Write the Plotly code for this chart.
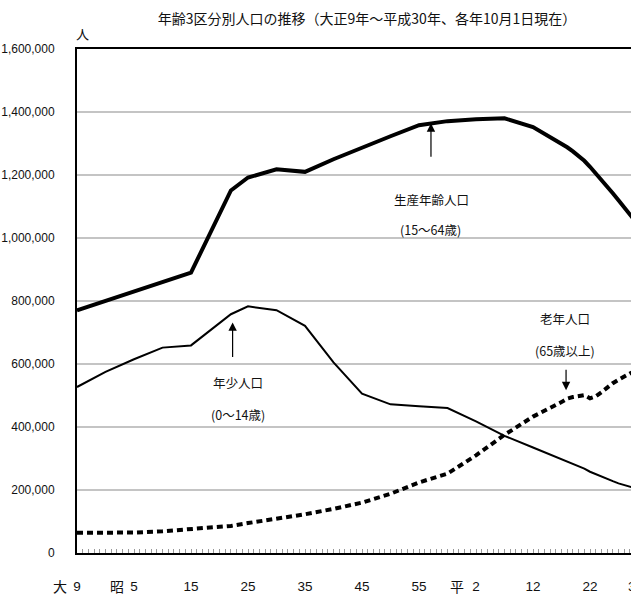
import plotly.graph_objects as go

# ---- data ----
years = [1920, 1925, 1930, 1935, 1940, 1947, 1950, 1955, 1960, 1965, 1970, 1975,
         1980, 1985, 1990, 1995, 2000, 2005, 2006, 2007, 2008, 2009, 2010, 2011,
         2012, 2013, 2014, 2015, 2016, 2017, 2018]
young = [527000, 575000, 615000, 652000, 659000, 758000, 783000, 771000, 721000, 605000,
         506000, 472000, 466000, 460000, 418000, 372000, 335000, 297000, 290000, 283000,
         276000, 268000, 258000, 250000, 243000, 236000, 228000, 221000, 216000, 210000, 205000]
working = [770000, 800000, 830000, 860000, 890000, 1151000, 1192000, 1218000, 1210000, 1250000,
           1288000, 1323000, 1358000, 1371000, 1377000, 1380000, 1352000, 1300000, 1288000,
           1275000, 1261000, 1245000, 1226000, 1206000, 1185000, 1164000, 1142000, 1120000,
           1097000, 1075000, 1052000]
elderly = [64000, 64000, 65000, 69000, 75000, 86000, 95000, 108000, 123000, 140000,
           160000, 188000, 224000, 252000, 310000, 375000, 433000, 479000, 490000, 495000,
           498000, 501000, 491000, 497000, 510000, 525000, 539000, 550000, 561000, 570000, 578000]

title_text = "年齢3区分別人口の推移（大正9年～平成30年、各年10月1日現在）"
label_years = [1920, 1930, 1940, 1950, 1960, 1970, 1980, 1990, 2000, 2010]
label_texts = ["9", "5", "15", "25", "35", "45", "55", "2", "12", "22"]
last_year, last_text = 2018, "30"
era_years = [1917.0, 1927.0, 1986.6]
era_texts = ["大", "昭", "平"]
y_ticks = [0, 200000, 400000, 600000, 800000, 1000000, 1200000, 1400000, 1600000]

NUM_FONT = "Liberation Sans, Arial, sans-serif"
CJK_FONT = "Noto Sans CJK JP, Noto Sans CJK SC, sans-serif"

X0 = 1920
X1 = 1920 + 554 / 5.7


def to_paper(yr):
    return (yr - X0) / (X1 - X0)


fig = go.Figure()
fig.add_trace(go.Scatter(x=years, y=working, mode="lines",
                         line=dict(color="black", width=4), name="生産年齢人口"))
fig.add_trace(go.Scatter(x=years, y=young, mode="lines",
                         line=dict(color="black", width=2), name="年少人口"))
fig.add_trace(go.Scatter(x=years, y=elderly, mode="lines",
                         line=dict(color="black", width=4, dash="6px,4px"), name="老年人口"))

tick_years = list(range(1920, 2018))
tick_text = [label_texts[label_years.index(yr)] if yr in label_years else "" for yr in tick_years]

fig.update_layout(
    width=631, height=601,
    margin=dict(l=77, r=0, t=49, b=48, autoexpand=False),
    paper_bgcolor="white", plot_bgcolor="white",
    showlegend=False,
    title=dict(text=title_text, x=367 / 631, xref="container", xanchor="center",
               y=1 - 19 / 601, yref="container", yanchor="middle",
               font=dict(family=CJK_FONT, size=14, color="#111")),
    xaxis=dict(range=[X0, X1], tickmode="array", tickvals=tick_years,
               ticktext=tick_text, ticks="inside", ticklen=4, tickwidth=1, tickcolor="#999",
               showgrid=False, zeroline=False, showline=True, linecolor="black", linewidth=2,
               mirror=True, ticklabelstandoff=20, automargin=False,
               tickfont=dict(family=NUM_FONT, size=13.5, color="#111")),
    yaxis=dict(range=[0, 1600000], tickmode="array", tickvals=y_ticks, tickformat=",",
               ticks="", showgrid=True, gridcolor="#c4c4c4", gridwidth=1.5,
               zeroline=False, showline=True, linecolor="black", linewidth=2, mirror=False,
               ticklabelstandoff=18, automargin=False,
               tickfont=dict(family=NUM_FONT, size=12, color="#111")),
)

ann = []
# era prefixes and the last (clipped) year label
for yr, t in zip(era_years, era_texts):
    ann.append(dict(x=to_paper(yr), y=0, xref="paper", yref="paper", text=t, showarrow=False,
                    xanchor="center", yshift=-33, yanchor="middle",
                    font=dict(family=CJK_FONT, size=14, color="#111")))
ann.append(dict(x=to_paper(last_year), y=0, xref="paper", yref="paper", text=last_text,
                showarrow=False, xanchor="center", yshift=-33, yanchor="middle",
                font=dict(family=NUM_FONT, size=13.5, color="#111")))
# unit
ann.append(dict(x=0, y=1, xref="paper", yref="paper", text="人", showarrow=False,
                xanchor="center", xshift=5, yshift=27,
                font=dict(family=CJK_FONT, size=13, color="#111")))
# series labels
lab_font = dict(family=CJK_FONT, size=12.5, color="#111")
ann += [
    dict(x=1982.2, y=1123000, text="生産年齢人口", showarrow=False, font=lab_font),
    dict(x=1982.1, y=1028000, text="(15～64歳)", showarrow=False, font=lab_font),
    dict(x=1948.2, y=542000, text="年少人口", showarrow=False, font=lab_font),
    dict(x=1948.3, y=440000, text="(0～14歳)", showarrow=False, font=lab_font),
    dict(x=2005.7, y=745000, text="老年人口", showarrow=False, font=lab_font),
    dict(x=2005.7, y=643000, text="(65歳以上)", showarrow=False, font=lab_font),
]
# arrows
arrow = dict(showarrow=True, arrowhead=2, arrowsize=1.4, arrowwidth=1.2, arrowcolor="black", text="")
ann += [
    dict(x=1982.1, y=1364000, ax=0, ay=35, **arrow),
    dict(x=1947.3, y=732000, ax=0, ay=36, **arrow),
    dict(x=2005.8, y=517000, ax=0, ay=-22, **arrow),
]
fig.update_layout(annotations=ann)

fig.write_html("out.html", config={"displayModeBar": False},
               post_script="document.body.style.margin='0';document.body.style.overflow='hidden';")
